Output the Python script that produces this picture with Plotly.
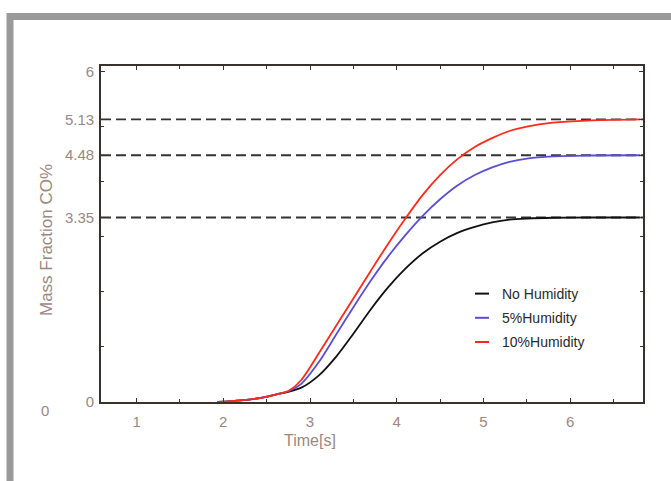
import plotly.graph_objects as go

# ---- data ----
series_names = ["No Humidity", "5%Humidity", "10%Humidity"]
series_colors = ["#111111", "#5a4fd0", "#ff2a1a"]

time_pts = [1.93, 2.2, 2.45, 2.65, 2.76, 2.9, 3.1, 3.3, 3.5, 3.7, 3.9, 4.1, 4.3, 4.5, 4.7, 4.9, 5.1, 5.3, 5.5, 5.8, 6.2, 6.81]

co_none = [0, 0.03, 0.08, 0.15, 0.19, 0.26, 0.48, 0.82, 1.24, 1.68, 2.08, 2.42, 2.70, 2.91, 3.07, 3.18, 3.26, 3.31, 3.33, 3.345, 3.35, 3.35]
co_5 = [0, 0.03, 0.08, 0.15, 0.20, 0.33, 0.72, 1.22, 1.72, 2.20, 2.64, 3.03, 3.38, 3.68, 3.93, 4.12, 4.26, 4.36, 4.42, 4.46, 4.475, 4.48]
co_10 = [0, 0.03, 0.08, 0.15, 0.21, 0.40, 0.88, 1.38, 1.88, 2.38, 2.87, 3.33, 3.76, 4.12, 4.41, 4.63, 4.79, 4.92, 5.00, 5.07, 5.11, 5.13]

steady_levels = [3.35, 4.48, 5.13]
y_tick_vals = [0, 3.35, 4.48, 5.13, 6]
y_tick_text = ["0", "3.35", "4.48", "5.13", "6"]
x_tick_vals = [1, 2, 3, 4, 5, 6]
x_tick_text = ["1", "2", "3", "4", "5", "6"]

x_range = [0.59, 6.84]
y_range = [0, 6.1]

label_color = "#9a8882"
frame_color = "#3a302c"
font_family = "Liberation Sans, Arial, sans-serif"

fig = go.Figure()

all_y = [co_none, co_5, co_10]
for y, name, col in zip(all_y, series_names, series_colors):
    fig.add_trace(go.Scatter(x=time_pts, y=y, mode="lines", name=name,
                             line=dict(color=col, width=1.8, shape="spline", smoothing=0.8),
                             showlegend=False, hoverinfo="skip"))

# legend entries with short dash symbol
for i, (name, col) in enumerate(zip(series_names, series_colors)):
    fig.add_trace(go.Scatter(x=[None], y=[None], mode="markers", name=name,
                             legendgroup=f"g{i}",
                             marker=dict(symbol="line-ew", size=10, color=col,
                                         line=dict(color=col, width=2))))

# steady-state dashed lines
for lvl in steady_levels:
    fig.add_shape(type="line", xref="paper", x0=0, x1=1, yref="y", y0=lvl, y1=lvl,
                  line=dict(color="#333333", width=1.8, dash="10px,5px"), layer="below")

# outer gray frame (paper coords: plot area px 101..643, py 66..402)
def px2paper(px):
    return (px - 101) / 542

def py2paper(py):
    return (402 - py) / 336

fig.add_shape(type="rect", xref="paper", yref="paper",
              x0=px2paper(10), x1=px2paper(720), y0=py2paper(16.5), y1=py2paper(520),
              line=dict(color="#9a9a9a", width=7), fillcolor="rgba(0,0,0,0)", layer="below")

# axis titles and stray zero label
fig.add_annotation(text="Time[s]", x=3.0, xref="x", y=py2paper(440), yref="paper",
                   xanchor="center", yanchor="middle",
                   showarrow=False, font=dict(size=16, color=label_color, family=font_family))
fig.add_annotation(text="Mass Fraction CO%", x=px2paper(47), xref="paper", y=py2paper(240), yref="paper",
                   xanchor="center", yanchor="middle",
                   textangle=-90, showarrow=False,
                   font=dict(size=17, color=label_color, family=font_family))
fig.add_annotation(text="0", x=px2paper(45), xref="paper", y=py2paper(411), yref="paper",
                   xanchor="center", yanchor="middle",
                   showarrow=False, font=dict(size=15, color=label_color, family=font_family))

fig.update_xaxes(range=x_range, tickvals=x_tick_vals, ticktext=x_tick_text,
                 showgrid=False, zeroline=False, showline=True, linecolor=frame_color,
                 linewidth=1.8, mirror="ticks", ticks="inside", ticklen=4, tickwidth=1,
                 tickcolor=frame_color, ticklabelstandoff=5,
                 minor=dict(dtick=0.5, ticks="inside", ticklen=3, tickcolor=frame_color),
                 tickfont=dict(size=15, color=label_color, family=font_family))
fig.update_yaxes(range=y_range, tickvals=y_tick_vals, ticktext=y_tick_text,
                 showgrid=False, zeroline=False, showline=True, linecolor=frame_color,
                 linewidth=1.8, mirror="ticks", ticks="inside", ticklen=4, tickwidth=1,
                 tickcolor=frame_color, ticklabelstandoff=2,
                 minor=dict(dtick=1, ticks="inside", ticklen=3, tickcolor=frame_color),
                 tickfont=dict(size=15, color=label_color, family=font_family))

fig.update_layout(
    width=671, height=481,
    margin=dict(l=101, r=28, t=66, b=79),
    paper_bgcolor="white", plot_bgcolor="white",
    font=dict(family=font_family),
    legend=dict(x=px2paper(462), y=py2paper(278), xanchor="left", yanchor="top",
                bgcolor="rgba(0,0,0,0)", tracegroupgap=3,
                font=dict(size=14, color="#2a2a2a", family=font_family)),
)

fig.write_html("out.html")
